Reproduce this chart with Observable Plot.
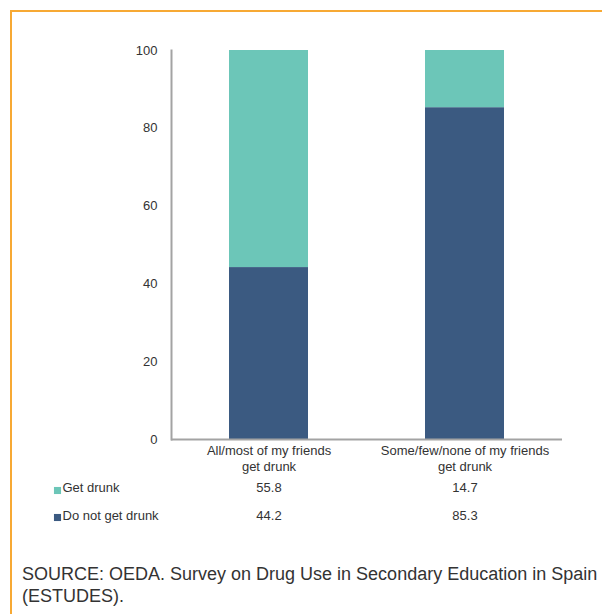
<!DOCTYPE html>
<html>
<head>
<meta charset="utf-8">
<script src="https://cdn.jsdelivr.net/npm/d3@7"></script>
<script src="https://cdn.jsdelivr.net/npm/@observablehq/plot@0.6"></script>
<style>
  html, body { margin: 0; padding: 0; background: #fff; overflow: hidden; }
  body { width: 602px; height: 614px; position: relative; font-family: "Liberation Sans", Arial, sans-serif; }
  #border { position: absolute; left: 10px; top: 10px; width: 700px; height: 700px;
            border-top: 2px solid #f7a934; border-left: 2px solid #f7a934; }
  #chart { position: absolute; left: 0; top: 0; }
  #caption { position: absolute; left: 22px; top: 563px; font-size: 18px; line-height: 22px;
             color: #333; white-space: nowrap; }
</style>
</head>
<body>
<div id="border"></div>
<div id="chart"></div>
<div id="caption">SOURCE: OEDA. Survey on Drug Use in Secondary Education in Spain<br>(ESTUDES).</div>
<script>
const categories = ["All/most of my friends\nget drunk", "Some/few/none of my friends\nget drunk"];
const seriesNames = ["Do not get drunk", "Get drunk"];
const notDrunk = [44.2, 85.3];
const getDrunk = [55.8, 14.7];
const yTicks = [0, 20, 40, 60, 80, 100];
const colors = {"Get drunk": "#6cc6b8", "Do not get drunk": "#3b5a81"};

const rows = [];
categories.forEach((c, i) => {
  rows.push({category: c, series: "Do not get drunk", value: notDrunk[i]});
  rows.push({category: c, series: "Get drunk", value: getDrunk[i]});
});
const getRows = rows.filter(d => d.series === "Get drunk");
const notRows = rows.filter(d => d.series === "Do not get drunk");

const text = "#333";
const axisColor = "#a3a3a3";

const plot = Plot.plot({
  width: 602,
  height: 540,
  marginTop: 50,
  marginBottom: 101,
  marginLeft: 171,
  marginRight: 40,
  style: {fontFamily: "'Liberation Sans', Arial, sans-serif", fontSize: "13px", color: text, background: "transparent", overflow: "visible"},
  x: {domain: categories, paddingInner: 0.595, paddingOuter: 0.293, label: null},
  y: {domain: [0, 100], label: null},
  color: {domain: Object.keys(colors), range: Object.values(colors)},
  marks: [
    Plot.barY(rows, {x: "category", y: "value", fill: "series", order: seriesNames}),
    Plot.ruleY([0], {stroke: axisColor, strokeWidth: 2}),
    Plot.frame({anchor: "left", stroke: axisColor, strokeWidth: 2}),
    Plot.axisY({ticks: yTicks, tickSize: 0, tickPadding: 14, label: null, fill: text}),
    Plot.axisX({tickSize: 0, tickPadding: 3, label: null, fill: text, lineHeight: 1.3}),
    Plot.text(getRows, {x: "category", frameAnchor: "bottom", dy: 52, text: d => d.value.toFixed(1), fill: text}),
    Plot.text(notRows, {x: "category", frameAnchor: "bottom", dy: 80, text: d => d.value.toFixed(1), fill: text}),
    Plot.dot(["Get drunk"], {frameAnchor: "bottom-left", dx: -114, dy: 51, symbol: "square", r: 4, fill: colors["Get drunk"]}),
    Plot.dot(["Do not get drunk"], {frameAnchor: "bottom-left", dx: -114, dy: 78, symbol: "square", r: 4, fill: colors["Do not get drunk"]}),
    Plot.text(["Get drunk"], {frameAnchor: "bottom-left", dx: -109, dy: 52, textAnchor: "start", text: d => d, fill: text}),
    Plot.text(["Do not get drunk"], {frameAnchor: "bottom-left", dx: -109, dy: 80, textAnchor: "start", text: d => d, fill: text})
  ]
});
document.getElementById("chart").appendChild(plot);
</script>
</body>
</html>
